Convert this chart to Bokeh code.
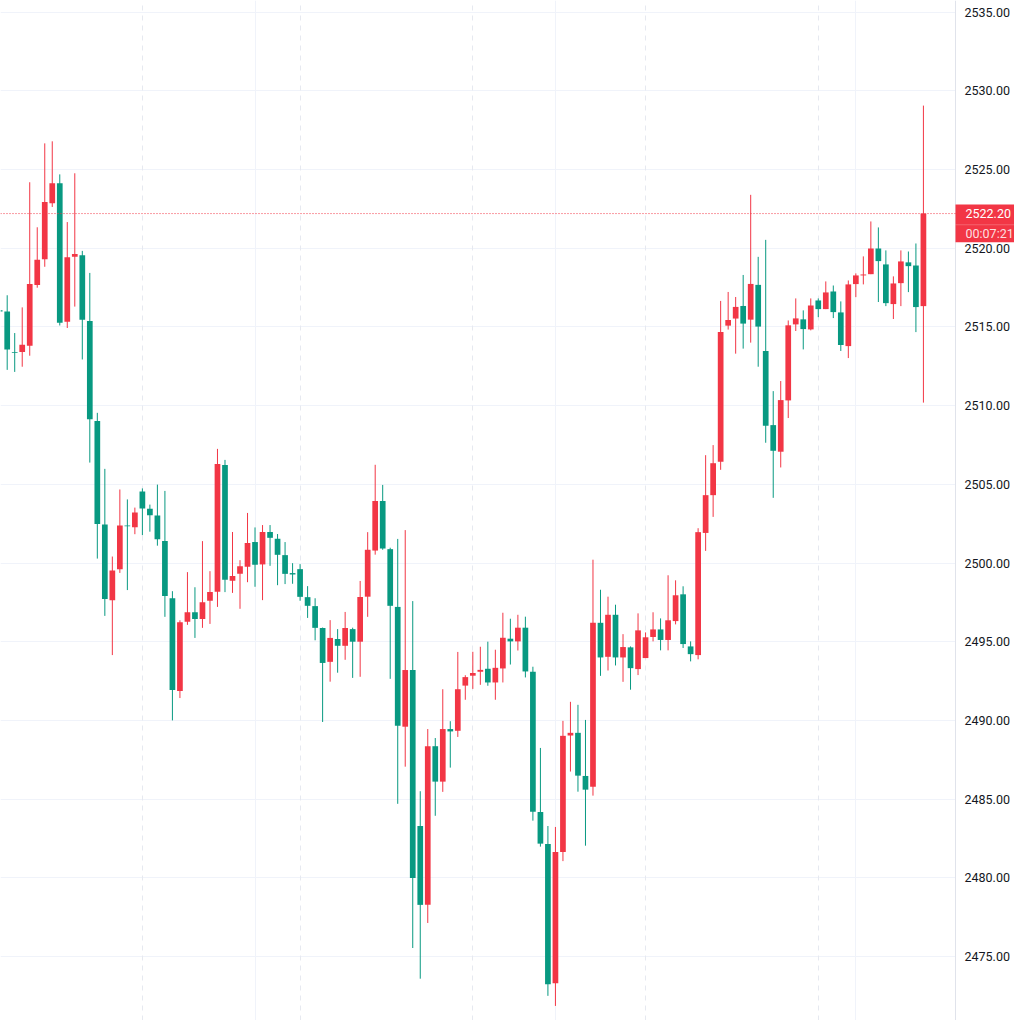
from bokeh.plotting import figure
from bokeh.models import (ColumnDataSource, Range1d, FixedTicker, PrintfTickFormatter,
                          Grid, Span, BoxAnnotation, Label, LinearAxis)
from bokeh.embed import file_html
from bokeh.resources import INLINE

# ---------------- data ----------------
bar_index = list(range(0, 124))

opens = [2516.05,
         2515.98, 2513.41, 2513.41, 2513.80, 2517.66, 2519.30, 2522.86, 2524.13, 2515.33, 2519.45,
         2519.56, 2515.37, 2509.02, 2502.45, 2497.64, 2499.61, 2502.38, 2502.27, 2504.54, 2503.45,
         2503.01, 2501.39, 2497.76, 2491.87, 2496.26, 2496.87, 2496.45, 2497.60, 2498.17, 2506.23,
         2498.87, 2499.31, 2499.76, 2501.33, 2499.91, 2501.97, 2501.54, 2500.50, 2499.36, 2499.61,
         2497.83, 2497.26, 2495.87, 2493.72, 2495.17, 2494.74, 2495.80, 2495.00, 2497.86, 2500.79,
         2503.94, 2500.88, 2497.21, 2489.60, 2493.20, 2483.29, 2478.28, 2488.36, 2486.11, 2489.45,
         2489.34, 2492.21, 2492.84, 2493.09, 2493.28, 2492.41, 2493.30, 2495.19, 2495.02, 2495.89,
         2493.09, 2484.18, 2482.15, 2473.30, 2481.64, 2489.04, 2489.21, 2486.47, 2485.79, 2496.20,
         2494.04, 2496.71, 2494.00, 2494.64, 2493.26, 2493.96, 2495.30, 2495.78, 2495.11, 2496.31,
         2498.01, 2494.70, 2494.15, 2501.91, 2504.31, 2506.43, 2515.08, 2515.53, 2516.33, 2515.46,
         2517.67, 2513.47, 2508.76, 2507.07, 2510.33, 2515.16, 2515.48, 2514.84, 2516.68, 2516.13,
         2517.25, 2515.92, 2513.78, 2517.72, 2518.27, 2518.35, 2519.98, 2518.97, 2516.45, 2517.78,
         2519.10, 2518.90, 2516.32]

highs = [2516.05,
         2517.01, 2514.61, 2516.24, 2524.19, 2521.33, 2526.66, 2526.79, 2524.69, 2521.66, 2524.76,
         2519.83, 2518.43, 2509.54, 2505.98, 2500.41, 2504.67, 2504.04, 2503.52, 2504.74, 2503.71,
         2504.98, 2504.58, 2498.21, 2496.36, 2499.42, 2498.46, 2501.39, 2499.48, 2507.25, 2506.55,
         2501.97, 2500.18, 2503.18, 2502.26, 2502.41, 2502.41, 2501.84, 2501.33, 2499.99, 2499.93,
         2498.53, 2497.76, 2495.90, 2496.37, 2495.80, 2496.89, 2495.89, 2498.86, 2501.96, 2506.24,
         2504.96, 2500.97, 2501.53, 2502.09, 2497.58, 2485.50, 2489.45, 2488.88, 2491.98, 2489.95,
         2494.35, 2492.87, 2494.36, 2494.68, 2495.00, 2494.49, 2496.84, 2496.46, 2496.71, 2496.59,
         2493.41, 2488.25, 2483.29, 2483.23, 2489.97, 2491.18, 2490.99, 2490.03, 2500.21, 2498.30,
         2497.86, 2497.35, 2495.48, 2494.70, 2496.80, 2495.59, 2496.87, 2496.48, 2499.22, 2498.90,
         2498.52, 2495.02, 2502.21, 2506.85, 2507.49, 2516.65, 2517.22, 2516.90, 2518.30, 2523.39,
         2519.45, 2520.53, 2510.92, 2511.56, 2515.41, 2516.81, 2516.05, 2516.81, 2516.81, 2517.89,
         2517.63, 2516.62, 2517.95, 2518.40, 2519.48, 2521.70, 2521.32, 2519.86, 2518.21, 2519.86,
         2519.79, 2520.30, 2529.06]

lows = [2515.98,
        2512.27, 2512.14, 2512.47, 2513.17, 2517.49, 2518.82, 2522.62, 2515.09, 2514.93, 2516.29,
        2512.93, 2506.38, 2500.28, 2496.64, 2494.15, 2499.37, 2498.28, 2501.83, 2501.77, 2501.99,
        2501.10, 2496.58, 2490.00, 2491.42, 2496.07, 2495.24, 2495.88, 2496.13, 2497.21, 2498.15,
        2498.10, 2497.09, 2498.78, 2498.49, 2497.64, 2499.82, 2498.59, 2498.66, 2498.68, 2497.60,
        2496.51, 2495.09, 2489.90, 2492.46, 2493.03, 2493.85, 2492.70, 2492.77, 2496.58, 2500.53,
        2500.84, 2492.64, 2484.70, 2487.06, 2475.54, 2473.59, 2477.13, 2483.94, 2485.46, 2487.00,
        2488.95, 2491.31, 2492.00, 2492.26, 2492.20, 2491.31, 2492.41, 2493.55, 2494.44, 2492.73,
        2483.63, 2481.98, 2472.50, 2471.86, 2481.06, 2486.75, 2485.47, 2482.04, 2485.22, 2492.83,
        2493.17, 2493.49, 2492.45, 2491.95, 2492.88, 2493.96, 2495.02, 2494.45, 2494.45, 2496.10,
        2494.60, 2493.75, 2493.88, 2500.77, 2502.93, 2505.92, 2514.83, 2513.30, 2513.62, 2514.00,
        2512.47, 2507.64, 2504.14, 2506.07, 2509.21, 2514.74, 2513.57, 2514.78, 2515.62, 2516.13,
        2515.56, 2513.47, 2513.02, 2516.89, 2517.70, 2518.35, 2516.58, 2516.32, 2515.50, 2516.32,
        2517.21, 2514.67, 2510.19]

closes = [2515.98,
          2513.56, 2513.36, 2513.86, 2517.73, 2519.26, 2522.93, 2524.13, 2515.26, 2519.43, 2519.63,
          2515.46, 2509.13, 2502.47, 2497.71, 2499.52, 2502.38, 2502.34, 2503.21, 2503.47, 2503.03,
          2501.51, 2497.91, 2491.93, 2496.24, 2496.87, 2496.45, 2497.51, 2498.15, 2506.29, 2498.93,
          2499.17, 2499.80, 2501.27, 2499.89, 2501.97, 2501.60, 2500.52, 2499.31, 2499.27, 2497.85,
          2497.28, 2495.88, 2493.65, 2495.24, 2494.74, 2495.87, 2495.00, 2497.84, 2500.84, 2503.94,
          2500.92, 2497.28, 2489.66, 2493.20, 2479.99, 2478.28, 2488.36, 2486.11, 2489.45, 2489.30,
          2491.98, 2492.75, 2493.01, 2493.21, 2492.41, 2493.34, 2495.25, 2495.02, 2495.89, 2493.11,
          2484.20, 2482.17, 2473.24, 2481.64, 2489.02, 2489.21, 2486.49, 2485.60, 2496.20, 2494.00,
          2496.71, 2494.00, 2494.66, 2493.32, 2495.72, 2495.28, 2495.78, 2495.11, 2496.36, 2497.95,
          2494.85, 2494.21, 2501.96, 2504.31, 2506.34, 2514.68, 2515.44, 2516.27, 2515.21, 2517.73,
          2515.02, 2508.72, 2507.13, 2510.35, 2515.10, 2515.54, 2514.86, 2516.36, 2516.13, 2517.19,
          2515.94, 2513.85, 2517.70, 2518.27, 2518.33, 2519.98, 2519.18, 2516.51, 2517.76, 2519.16,
          2518.86, 2516.26, 2522.20]

price_ticks = [2470, 2475, 2480, 2485, 2490, 2495, 2500, 2505, 2510, 2515, 2520, 2525, 2530, 2535]
hour_lines = [34, 74, 114]              # solid vertical grid lines (bar index)
session_breaks = [19, 40, 63, 86, 109]  # dashed vertical lines (bar index)
countdown = "00:07:21"

# ---------------- styling / layout ----------------
UP = "#F23645"     # rising bar (red)
DOWN = "#089981"   # falling bar (green)
FONT = "Roboto"

colors = [UP if c >= o else DOWN for o, c in zip(opens, closes)]
# doji bars whose colour follows the picture
for i, col in ((0, DOWN), (2, DOWN), (17, DOWN), (39, DOWN), (60, DOWN), (115, UP)):
    colors[i] = col

src = ColumnDataSource(dict(
    x=bar_index, open=opens, high=highs, low=lows, close=closes,
    top=[max(o, c) for o, c in zip(opens, closes)],
    bottom=[min(o, c) for o, c in zip(opens, closes)],
    color=colors,
))

FRAME_W, FRAME_H = 1014, 1020
PX_PER_BAR = 7.51
PX_PER_UNIT = 15.74
PANE_W = 955                          # width of the candle pane; price scale to its right
x0 = 1 - 6.7 / PX_PER_BAR
x1 = x0 + FRAME_W / PX_PER_BAR
y1 = 2535 + 11.6 / PX_PER_UNIT
y0 = y1 - FRAME_H / PX_PER_UNIT
x_scale = x0 + PANE_W / PX_PER_BAR

p = figure(frame_width=FRAME_W, frame_height=FRAME_H,
           x_range=Range1d(x0, x1), y_range=Range1d(y0, y1),
           x_axis_location=None, y_axis_location=None,
           toolbar_location=None, output_backend="svg", min_border=0,
           outline_line_color=None, background_fill_color="white", border_fill_color="white")

for g in p.grid:
    g.visible = False

p.add_layout(Grid(dimension=1, ticker=FixedTicker(ticks=price_ticks),
                  grid_line_color="#f0f3fa", grid_line_width=1))
p.add_layout(Grid(dimension=0, ticker=FixedTicker(ticks=hour_lines),
                  grid_line_color="#f0f3fa", grid_line_width=1))
p.add_layout(Grid(dimension=0, ticker=FixedTicker(ticks=session_breaks),
                  grid_line_color="#e6e9f0", grid_line_width=1, grid_line_dash="5 5"))
# white price-scale background (hides grid lines right of the pane)
p.add_layout(BoxAnnotation(left=PANE_W, right=FRAME_W + 50, left_units="screen", right_units="screen",
                           fill_color="white", fill_alpha=1.0, line_color=None, level="underlay"))

ax = LinearAxis(fixed_location=x_scale, ticker=FixedTicker(ticks=price_ticks),
                formatter=PrintfTickFormatter(format="%.2f"))
ax.major_tick_out = 0
ax.major_tick_in = 0
ax.minor_tick_out = 0
ax.minor_tick_in = 0
ax.axis_line_color = "#e0e3eb"
ax.major_label_standoff = 9
ax.major_label_text_font = FONT
ax.major_label_text_font_size = "12.5px"
ax.major_label_text_color = "#131722"
p.add_layout(ax, "right")

p.segment(x0="x", y0="low", x1="x", y1="high", source=src, line_color="color", line_width=1)
p.vbar(x="x", top="top", bottom="bottom", width=0.76, source=src,
       fill_color="color", line_color=None)

last_price = closes[-1]
p.add_layout(Span(location=last_price, dimension="width", line_color=UP,
                  line_width=1, line_dash="1 2"))

box = BoxAnnotation(left=PANE_W, right=FRAME_W + 50, left_units="screen", right_units="screen",
                    top=last_price + 9.0 / PX_PER_UNIT, bottom=last_price - 28.6 / PX_PER_UNIT,
                    fill_color=UP, fill_alpha=1.0, line_color=None, level="overlay")
p.add_layout(box)
sep = BoxAnnotation(left=PANE_W, right=FRAME_W + 50, left_units="screen", right_units="screen",
                    top=last_price - 10.8 / PX_PER_UNIT, bottom=last_price - 11.8 / PX_PER_UNIT,
                    fill_color="white", fill_alpha=0.22, line_color=None, level="overlay")
p.add_layout(sep)

p.add_layout(Label(x=PANE_W + 10, y=last_price, x_units="screen", text=f"{last_price:.2f}",
                   text_font=FONT, text_font_size="12.5px", text_color="white",
                   text_baseline="middle", text_align="left", level="overlay"))
p.add_layout(Label(x=PANE_W + 10, y=last_price, x_units="screen", y_offset=-20, text=countdown,
                   text_font=FONT, text_font_size="12.5px", text_color="white", text_alpha=0.85,
                   text_baseline="middle", text_align="left", level="overlay"))

open("out.html", "w").write(file_html(p, INLINE))
